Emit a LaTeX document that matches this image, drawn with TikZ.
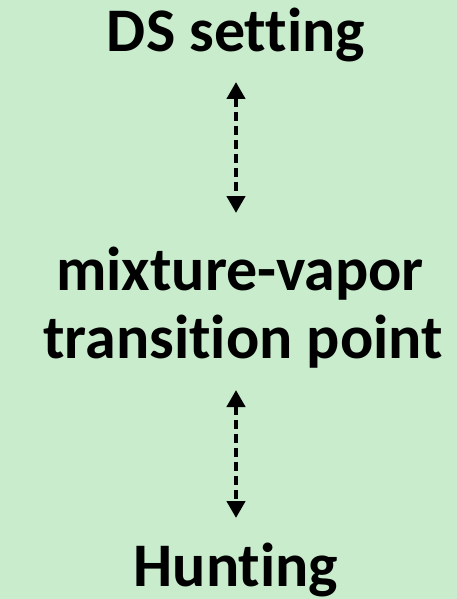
\documentclass[tikz,border=0pt]{standalone}
\usepackage{fontspec}
\setmainfont{Carlito}[Ligatures=NoCommon]
\usetikzlibrary{arrows.meta}
\definecolor{bgreen}{HTML}{C8ECCC}
\begin{document}
\begin{tikzpicture}[x=1pt,y=-1pt,
  lbl/.style={font=\bfseries\fontsize{62}{70}\selectfont, anchor=base, inner sep=0pt, align=center},
  link/.style={line width=4.5pt, dash pattern=on 9pt off 5pt, {Triangle[width=18pt,length=17pt]}-{Triangle[width=18pt,length=17pt]}}]
  \fill[bgreen] (0,0) rectangle (457,599);
  \useasboundingbox (0,0) rectangle (457,599);
  \node[lbl] (ds) at (236,52) {DS setting};
  \node[lbl] (mv) at (240,290) {mixture-vapor};
  \node[lbl] (tp) at (243,358) {transition point};
  \node[lbl] (hu) at (236,586) {Hunting};
  \coordinate (a1) at (236,82);
  \coordinate (a2) at (236,213);
  \coordinate (b1) at (236,390);
  \coordinate (b2) at (236,518);
  \draw[link] (a1) -- (a2);
  \draw[link] (b1) -- (b2);
\end{tikzpicture}
\end{document}
